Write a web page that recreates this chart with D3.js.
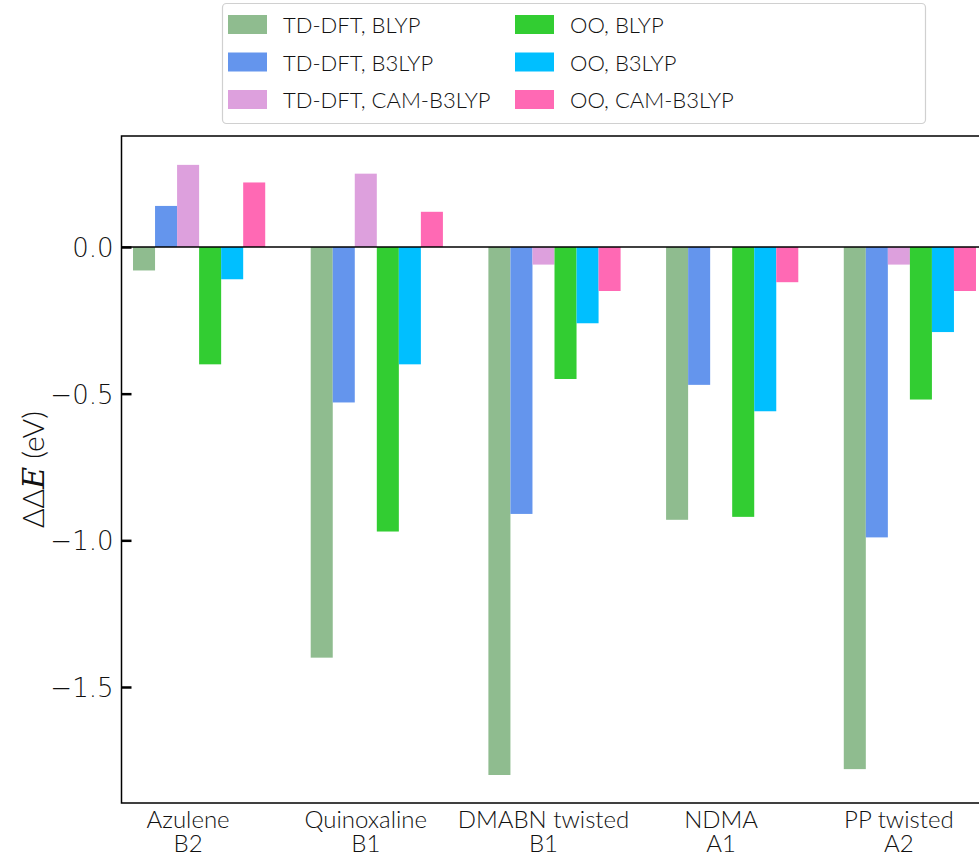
<!DOCTYPE html>
<html>
<head>
<meta charset="utf-8">
<script src="https://cdn.jsdelivr.net/npm/d3@7"></script>
<style>
  html, body { margin: 0; padding: 0; background: #fff; }
  svg { display: block; font-family: Lato, "DejaVu Sans", sans-serif; font-weight: 300; }
</style>
</head>
<body>
<svg id="chart" width="979" height="856"></svg>
<script>
// ---- data ----
const categories = [["Azulene", "B2"], ["Quinoxaline", "B1"], ["DMABN twisted", "B1"], ["NDMA", "A1"], ["PP twisted", "A2"]];
const seriesNames = ["TD-DFT, BLYP", "TD-DFT, B3LYP", "TD-DFT, CAM-B3LYP", "OO, BLYP", "OO, B3LYP", "OO, CAM-B3LYP"];
const seriesColors = ["#8fbc8f", "#6495ed", "#dda0dd", "#32cd32", "#00bfff", "#ff69b4"];
const tdBLYP   = [-0.08, -1.40, -1.80, -0.93, -1.78];
const tdB3LYP  = [ 0.14, -0.53, -0.91, -0.47, -0.99];
const tdCAM    = [ 0.28,  0.25, -0.06,  0.00, -0.06];
const ooBLYP   = [-0.40, -0.97, -0.45, -0.92, -0.52];
const ooB3LYP  = [-0.11, -0.40, -0.26, -0.56, -0.29];
const ooCAM    = [ 0.22,  0.12, -0.15, -0.12, -0.15];
const seriesValues = [tdBLYP, tdB3LYP, tdCAM, ooBLYP, ooB3LYP, ooCAM];
const yTicks = [0.0, -0.5, -1.0, -1.5];
const barWidth = 0.124;

// ---- layout ----
const svg = d3.select("#chart");
const axL = 121.5, axR = 987.5, axT = 136, axB = 803;
const x = d3.scaleLinear().domain([-0.0648, 4 + 6 * barWidth + 0.0648]).range([axL, axR]);
const y = d3.scaleLinear().domain([0.3784, -1.8955]).range([axT, axB]);

// bars
const bars = [];
seriesValues.forEach((vals, s) => vals.forEach((v, g) => bars.push({s, g, v})));
svg.append("g").selectAll("rect").data(bars).join("rect")
  .attr("x", d => x(d.g + d.s * barWidth))
  .attr("width", d => x(d.g + (d.s + 1) * barWidth) - x(d.g + d.s * barWidth))
  .attr("y", d => y(Math.max(0, d.v)))
  .attr("height", d => Math.abs(y(d.v) - y(0)))
  .attr("fill", d => seriesColors[d.s]);

// zero line
svg.append("line")
  .attr("x1", axL).attr("x2", axR)
  .attr("y1", y(0)).attr("y2", y(0))
  .attr("stroke", "#000").attr("stroke-width", 1.5);

// spines
svg.append("rect")
  .attr("x", axL).attr("y", axT)
  .attr("width", axR - axL).attr("height", axB - axT)
  .attr("fill", "none").attr("stroke", "#000").attr("stroke-width", 1.5);

// y axis (ticks inward)
const yAxis = d3.axisLeft(y).tickValues(yTicks).tickSizeInner(-10).tickSizeOuter(0)
  .tickFormat(d => d3.format(".1f")(d).replace("-", "\u2212"));
const gy = svg.append("g").attr("transform", `translate(${axL},0)`).call(yAxis);
gy.select(".domain").remove();
gy.selectAll(".tick line").attr("stroke", "#000").attr("stroke-width", 2.5);
gy.selectAll(".tick text").attr("x", -8).attr("dy", "0.36em")
  .attr("font-size", 26).attr("fill", "#111")
  .attr("font-family", "'DejaVu Sans', sans-serif").attr("font-weight", 200);

// x tick labels
const gx = svg.append("g");
categories.forEach((c, g) => {
  const cx = x(g + 2.5 * barWidth);
  gx.append("text").attr("x", cx).attr("y", 828)
    .attr("text-anchor", "middle").attr("font-size", 24).attr("fill", "#111").text(c[0]);
  gx.append("text").attr("x", cx).attr("y", 852)
    .attr("text-anchor", "middle").attr("font-size", 24).attr("fill", "#111").text(c[1]);
});

// y label
const yl = svg.append("text")
  .attr("transform", `translate(44,${(axT + axB) / 2}) rotate(-90)`)
  .attr("text-anchor", "middle").attr("font-size", 30).attr("fill", "#111");
yl.append("tspan").text("\u0394\u0394");
yl.append("tspan").attr("font-style", "italic").attr("font-family", "'DejaVu Serif', serif").text("E");
yl.append("tspan").text(" (eV)");

// legend
const lg = svg.append("g");
lg.append("rect").attr("x", 222.5).attr("y", 3.5).attr("width", 703).attr("height", 120)
  .attr("rx", 4).attr("fill", "#fff").attr("stroke", "#d0d0d0").attr("stroke-width", 1.2);
seriesNames.forEach((name, i) => {
  const col = Math.floor(i / 3), row = i % 3;
  const px = 228 + col * 287, py = 15 + row * 37.5;
  lg.append("rect").attr("x", px).attr("y", py).attr("width", 39).attr("height", 19)
    .attr("fill", seriesColors[i]);
  lg.append("text").attr("x", px + 55).attr("y", py + 18)
    .attr("font-size", 22).attr("fill", "#111").text(name);
});
</script>
</body>
</html>
